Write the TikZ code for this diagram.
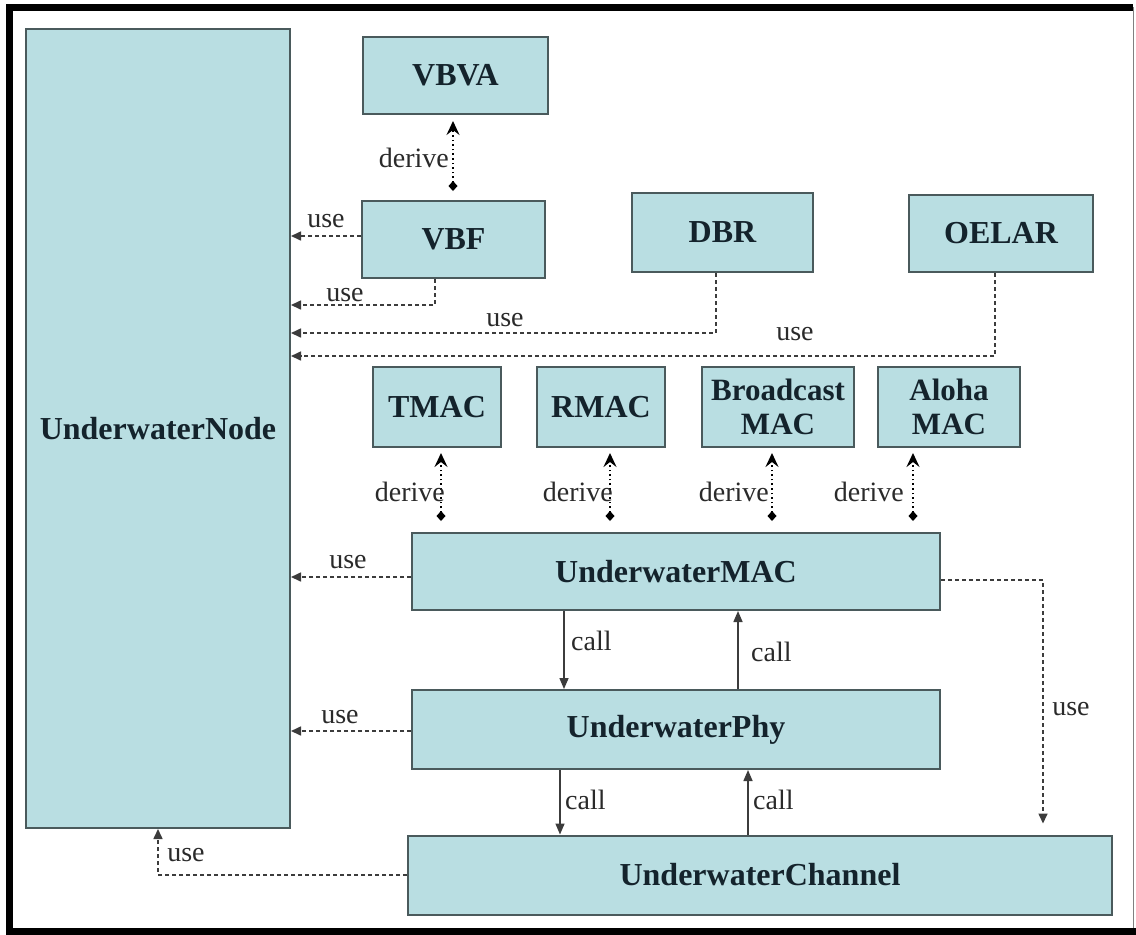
\documentclass[tikz,border=0pt]{standalone}
\usepackage{fontspec}
\setmainfont{Liberation Serif}
\usetikzlibrary{arrows.meta}
\definecolor{boxfill}{HTML}{B9DEE2}
\definecolor{boxline}{HTML}{4A5A5C}
\definecolor{boxtext}{HTML}{14232C}
\definecolor{lbl}{HTML}{2A2A2A}
\definecolor{conn}{HTML}{3C3C3C}
\begin{document}
\begin{tikzpicture}[x=1pt,y=-1pt,
  box/.style={draw=boxline, line width=2pt, fill=boxfill, inner sep=0pt,
    font=\fontsize{32}{35}\selectfont\bfseries, text=boxtext, align=center},
  lab/.style={inner sep=0pt, font=\fontsize{28}{30}\selectfont, text=lbl},
  usearrow/.style={draw=conn, line width=1.6pt, dash pattern=on 4pt off 3pt,
    -{Triangle[length=10pt,width=9pt]}},
  derivearrow/.style={draw=black, line width=2.2pt, dash pattern=on 1.6pt off 3pt,
    {Diamond[length=10pt,width=9pt]}-{Stealth[length=14pt,width=13pt,inset=5pt]}},
  callarrow/.style={draw=conn, line width=1.5pt, -{Triangle[length=11pt,width=9pt]}}]
% canvas and frame
\fill[white] (0,0) rectangle (1136,935);
\useasboundingbox (0,0) rectangle (1136,935);
\draw[black, line width=7pt] (1133,7) -- (9,7) -- (9,931.5) -- (1136,931.5);
\draw[gray, line width=1pt] (1133,7) -- (1133,928);
% boxes
\node[box, minimum width=264pt, minimum height=799pt] (node) at (158,428.5) {UnderwaterNode};
\node[box, minimum width=185pt, minimum height=77pt] (vbva) at (455.5,75.5) {VBVA};
\node[box, minimum width=183pt, minimum height=77pt] (vbf) at (453.5,239.5) {VBF};
\node[box, minimum width=181pt, minimum height=79pt] (dbr) at (722.5,232.5) {DBR};
\node[box, minimum width=184pt, minimum height=77pt] (oelar) at (1001,233.5) {OELAR};
\node[box, minimum width=128pt, minimum height=80pt] (tmac) at (437,407) {TMAC};
\node[box, minimum width=128pt, minimum height=80pt] (rmac) at (601,407) {RMAC};
\node[box, minimum width=152pt, minimum height=80pt, font=\fontsize{31}{34}\selectfont\bfseries] (bmac) at (778,407) {Broadcast\\MAC};
\node[box, minimum width=142pt, minimum height=80pt, font=\fontsize{31}{34}\selectfont\bfseries] (amac) at (949,407) {Aloha\\MAC};
\node[box, minimum width=528pt, minimum height=77pt] (mac) at (676,571.5) {UnderwaterMAC};
\node[box, minimum width=528pt, minimum height=79pt] (phy) at (676,729.5) {UnderwaterPhy};
\node[box, minimum width=704pt, minimum height=79pt] (chan) at (760,875) {UnderwaterChannel};
% derive connectors
\coordinate (d0) at (453,0);
\coordinate (d1) at (441,0);
\coordinate (d2) at (610,0);
\coordinate (d3) at (772,0);
\coordinate (d4) at (913,0);
\draw[derivearrow, shorten <=9pt, shorten >=6pt] (vbf.north -| d0) -- (vbva.south -| d0);
\draw[derivearrow, shorten <=11pt, shorten >=5pt] (mac.north -| d1) -- (tmac.south -| d1);
\draw[derivearrow, shorten <=11pt, shorten >=5pt] (mac.north -| d2) -- (rmac.south -| d2);
\draw[derivearrow, shorten <=11pt, shorten >=5pt] (mac.north -| d3) -- (bmac.south -| d3);
\draw[derivearrow, shorten <=11pt, shorten >=5pt] (mac.north -| d4) -- (amac.south -| d4);
\node[lab, anchor=east] (ld0) at (449,158) {derive};
\node[lab, anchor=east] (ld1) at (445,492) {derive};
\node[lab, anchor=east] (ld2) at (613,492) {derive};
\node[lab, anchor=east] (ld3) at (769,492) {derive};
\node[lab, anchor=east] (ld4) at (904,492) {derive};
% use connectors
\coordinate (u0) at (0,236);
\draw[usearrow] (vbf.west |- u0) -- (node.east |- u0);
\node[lab] (lu0) at (326,221) {use};
\coordinate (b1) at (435,305);
\draw[usearrow] (vbf.south -| b1) -- (b1) -- (b1 -| node.east);
\node[lab] (lu1) at (345,295) {use};
\coordinate (b2) at (716,333);
\draw[usearrow] (dbr.south -| b2) -- (b2) -- (b2 -| node.east);
\node[lab] (lu2) at (505,320) {use};
\coordinate (b3) at (995,356);
\draw[usearrow] (oelar.south -| b3) -- (b3) -- (b3 -| node.east);
\node[lab] (lu3) at (795,334) {use};
\coordinate (u4) at (0,577);
\draw[usearrow] (mac.west |- u4) -- (node.east |- u4);
\node[lab] (lu4) at (348,562) {use};
\coordinate (u5) at (0,731);
\draw[usearrow] (phy.west |- u5) -- (node.east |- u5);
\node[lab] (lu5) at (340,717) {use};
\coordinate (b4) at (1043,580);
\draw[usearrow, shorten >=11pt] (mac.east |- b4) -- (b4) -- (b4 |- chan.north);
\node[lab] (lu6) at (1071,709) {use};
\coordinate (b5) at (158,875);
\draw[usearrow] (chan.west |- b5) -- (b5) -- (b5 |- node.south);
\node[lab] (lu7) at (186,855) {use};
% call connectors
\coordinate (c1) at (564,0);
\coordinate (c2) at (738,0);
\coordinate (c3) at (560,0);
\coordinate (c4) at (748,0);
\draw[callarrow] (mac.south -| c1) -- (phy.north -| c1);
\draw[callarrow] (phy.north -| c2) -- (mac.south -| c2);
\draw[callarrow] (phy.south -| c3) -- (chan.north -| c3);
\draw[callarrow] (chan.north -| c4) -- (phy.south -| c4);
\node[lab, anchor=west] (lc1) at (571,641) {call};
\node[lab, anchor=west] (lc2) at (751,652) {call};
\node[lab, anchor=west] (lc3) at (565,800) {call};
\node[lab, anchor=west] (lc4) at (753,800) {call};
\end{tikzpicture}
\end{document}
